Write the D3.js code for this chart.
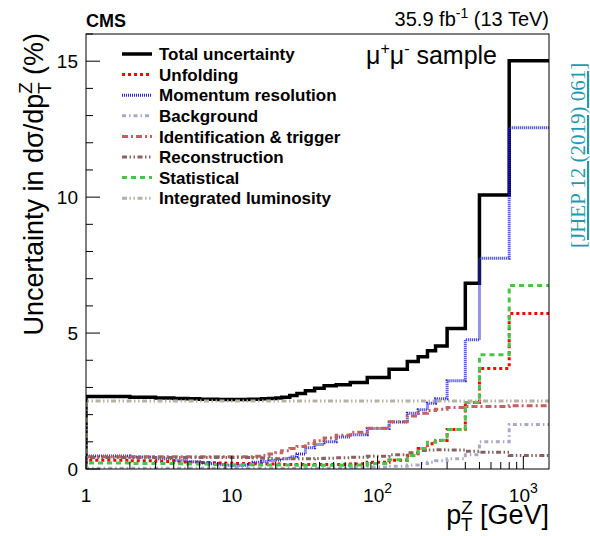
<!DOCTYPE html>
<html><head><meta charset="utf-8">
<script src="https://cdn.jsdelivr.net/npm/d3@7"></script>
<style>
body{margin:0;background:#fff}
svg{display:block;font-family:"Liberation Sans",Arial,Helvetica,sans-serif}
</style>
</head><body>
<svg id="chart" width="590" height="536"></svg>
<script>
// ---------- data ----------
const binEdges = [1,2,3,4,5,6,7,8,9,10,11,12,13,14,16,18,20,22,25,28,32,37,43,52,65,85,120,160,190,220,250,300,400,500,800,1500];
const totalUncertainty = [2.67,2.64,2.61,2.59,2.58,2.57,2.57,2.56,2.56,2.56,2.56,2.56,2.57,
  2.57,2.58,2.59,2.61,2.64,2.70,2.78,2.88,2.97,3.06,3.10,3.18,3.37,3.67,3.95,4.13,4.35,4.52,5.17,6.83,10.08,15.02];
const unfolding = [0.32,0.30,0.28,0.26,0.25,0.24,0.23,0.22,0.21,0.20,0.20,0.20,0.19,
  0.19,0.18,0.18,0.18,0.17,0.17,0.17,0.17,0.17,0.17,0.17,0.18,0.25,0.32,0.50,0.75,0.93,1.05,1.45,2.45,3.70,5.72];
const momentumResolution = [0.48,0.44,0.38,0.32,0.27,0.22,0.19,0.16,0.14,0.13,0.13,0.14,0.17,
  0.25,0.28,0.31,0.33,0.38,0.45,0.55,0.78,0.90,1.00,1.18,1.26,1.49,1.73,2.05,2.18,2.42,2.58,3.25,4.75,7.75,12.55];
const background = [0.03,0.03,0.03,0.03,0.03,0.03,0.03,0.03,0.03,0.03,0.03,0.03,0.03,
  0.03,0.03,0.03,0.03,0.03,0.03,0.03,0.03,0.03,0.03,0.03,0.05,0.07,0.10,0.15,0.20,0.25,0.30,0.38,0.52,1.00,1.64];
const idTrigger = [0.45,0.45,0.45,0.45,0.45,0.45,0.45,0.45,0.45,0.45,0.45,0.45,0.45,
  0.47,0.50,0.55,0.60,0.67,0.75,0.83,0.94,1.04,1.14,1.24,1.35,1.50,1.74,1.95,2.05,2.15,2.20,2.26,2.30,2.30,2.33];
const reconstruction = [0.42,0.42,0.42,0.42,0.42,0.42,0.42,0.42,0.42,0.42,0.42,0.42,0.42,
  0.41,0.40,0.39,0.38,0.38,0.38,0.38,0.38,0.39,0.40,0.41,0.43,0.47,0.52,0.60,0.68,0.70,0.71,0.70,0.65,0.62,0.50];
const statistical = [0.22,0.20,0.20,0.19,0.18,0.18,0.17,0.17,0.17,0.16,0.16,0.16,0.16,
  0.15,0.15,0.15,0.15,0.15,0.15,0.14,0.14,0.14,0.14,0.14,0.15,0.20,0.34,0.50,0.75,0.98,1.06,1.45,2.45,4.20,6.75];
const luminosity = [2.5,2.5,2.5,2.5,2.5,2.5,2.5,2.5,2.5,2.5,2.5,2.5,2.5,
  2.5,2.5,2.5,2.5,2.5,2.5,2.5,2.5,2.5,2.5,2.5,2.5,2.5,2.5,2.5,2.5,2.5,2.5,2.5,2.5,2.5,2.5];
const seriesNames = ["Total uncertainty","Unfolding","Momentum resolution","Background",
  "Identification & trigger","Reconstruction","Statistical","Integrated luminosity"];
const yTickValues = [0,5,10,15];
const xTickLabels = [["1",""],["10",""],["10","2"],["10","3"]];
const xTickValues = [1,10,100,1000];

// ---------- styles ----------
const seriesValues = [totalUncertainty,unfolding,momentumResolution,background,idTrigger,reconstruction,statistical,luminosity];
const styles = [
  {c:"#000000", w:3.5, d:null},
  {c:"#ff0000", w:3, d:"3,3"},
  {c:"#2828d8", w:3, d:"1,1"},
  {c:"#a8a8c8", w:3, d:"4,3,1.5,3"},
  {c:"#c46060", w:3, d:"6,3,2,3"},
  {c:"#876262", w:3, d:"5,2.5,1.5,2.5,1.5,2.5"},
  {c:"#48c448", w:3, d:"5,4"},
  {c:"#b8b0a4", w:3, d:"5,2.5,1.5,2.5,1.5,2.5"}
];

const svg = d3.select("#chart");
const L = 86, R = 549, T = 34, B = 469;
const x = d3.scaleLog().domain([1,1500]).range([L,R]);
const y = d3.scaleLinear().domain([0,16]).range([B,T]);

svg.append("defs").append("clipPath").attr("id","clip")
  .append("rect").attr("x",L).attr("y",T).attr("width",R-L).attr("height",B-T);

const line = d3.line().x(d=>x(d[0])).y(d=>y(d[1])).curve(d3.curveStepAfter);
const plot = svg.append("g").attr("clip-path","url(#clip)");
seriesValues.forEach((vals,i)=>{
  const pts = [[binEdges[0],0]];
  vals.forEach((v,j)=>pts.push([binEdges[j],v]));
  pts.push([binEdges[binEdges.length-1], vals[vals.length-1]]);
  const st = styles[i];
  plot.append("path").attr("d",line(pts)).attr("fill","none")
    .attr("stroke",st.c).attr("stroke-width",st.w)
    .attr("stroke-dasharray",st.d).attr("stroke-linejoin","miter");
});

// frame
svg.append("rect").attr("x",L).attr("y",T).attr("width",R-L).attr("height",B-T)
  .attr("fill","none").attr("stroke","#000").attr("stroke-width",1);

// y ticks
const yAx = svg.append("g");
d3.range(0,16.01,1).forEach(v=>{
  const major = v%5===0;
  yAx.append("line").attr("x1",L).attr("x2",L+(major?14:7)).attr("y1",y(v)).attr("y2",y(v))
    .attr("stroke","#000").attr("stroke-width",1);
});
yTickValues.forEach(v=>{
  yAx.append("text").attr("x",78).attr("y",y(v)).attr("dy","0.36em")
    .attr("text-anchor","end").attr("font-size",19).text(v);
});

// x ticks
const xAx = svg.append("g");
x.ticks().forEach(v=>{
  if(v<1||v>1500) return;
  const major = Math.abs(Math.log10(v)-Math.round(Math.log10(v)))<1e-9;
  xAx.append("line").attr("x1",x(v)).attr("x2",x(v)).attr("y1",B).attr("y2",B-(major?13:7))
    .attr("stroke","#000").attr("stroke-width",1);
});
xTickValues.forEach((v,i)=>{
  const t = xAx.append("text").attr("x",x(v)).attr("y",502).attr("text-anchor","middle").attr("font-size",19);
  t.append("tspan").text(xTickLabels[i][0]);
  if(xTickLabels[i][1]) t.append("tspan").attr("dy",-9).attr("font-size",14).text(xTickLabels[i][1]);
});

// axis titles
const yt = svg.append("text").attr("transform","translate(43,33) rotate(-90)")
  .attr("text-anchor","end").attr("font-size",27);
yt.append("tspan").text("Uncertainty in dσ/dp");
yt.append("tspan").attr("dy",-11).attr("font-size",19).text("Z");
yt.append("tspan").attr("dx",-12).attr("dy",19).attr("font-size",19).text("T");
yt.append("tspan").attr("dy",-8).text(" (%)");

const xt = svg.append("text").attr("x",549).attr("y",524).attr("text-anchor","end").attr("font-size",27);
xt.append("tspan").text("p");
xt.append("tspan").attr("dy",-10).attr("font-size",19).text("Z");
xt.append("tspan").attr("dx",-12).attr("dy",17).attr("font-size",19).text("T");
xt.append("tspan").attr("dy",-7).text(" [GeV]");

// header texts
svg.append("text").attr("x",86).attr("y",27).attr("font-size",18).attr("font-weight","bold").text("CMS");
const lu = svg.append("text").attr("x",549).attr("y",26).attr("text-anchor","end").attr("font-size",20);
lu.append("tspan").text("35.9 fb");
lu.append("tspan").attr("dy",-8).attr("font-size",14).text("-1");
lu.append("tspan").attr("dy",8).text(" (13 TeV)");

const mu = svg.append("text").attr("x",366).attr("y",64).attr("font-size",25);
mu.append("tspan").text("μ");
mu.append("tspan").attr("dy",-10).attr("font-size",16).text("+");
mu.append("tspan").attr("dy",10).text("μ");
mu.append("tspan").attr("dy",-10).attr("font-size",16).text("-");
mu.append("tspan").attr("dy",10).text(" sample");

// legend
const lg = svg.append("g");
seriesNames.forEach((n,i)=>{
  const yy = 54 + i*20.6;
  const st = styles[i];
  lg.append("line").attr("x1",122).attr("x2",152).attr("y1",yy).attr("y2",yy)
    .attr("stroke",st.c).attr("stroke-width",st.w).attr("stroke-dasharray",st.d);
  lg.append("text").attr("x",159).attr("y",yy).attr("dy","0.36em")
    .attr("font-size",17).attr("font-weight","bold").text(n);
});

// reference link
svg.append("text").attr("transform","translate(585,248) rotate(-90)")
  .attr("font-family","'Liberation Serif','Times New Roman',serif").attr("font-size",21)
  .attr("fill","#1e9aac").attr("text-decoration","underline").text("[JHEP 12 (2019) 061]");
</script>
</body></html>
